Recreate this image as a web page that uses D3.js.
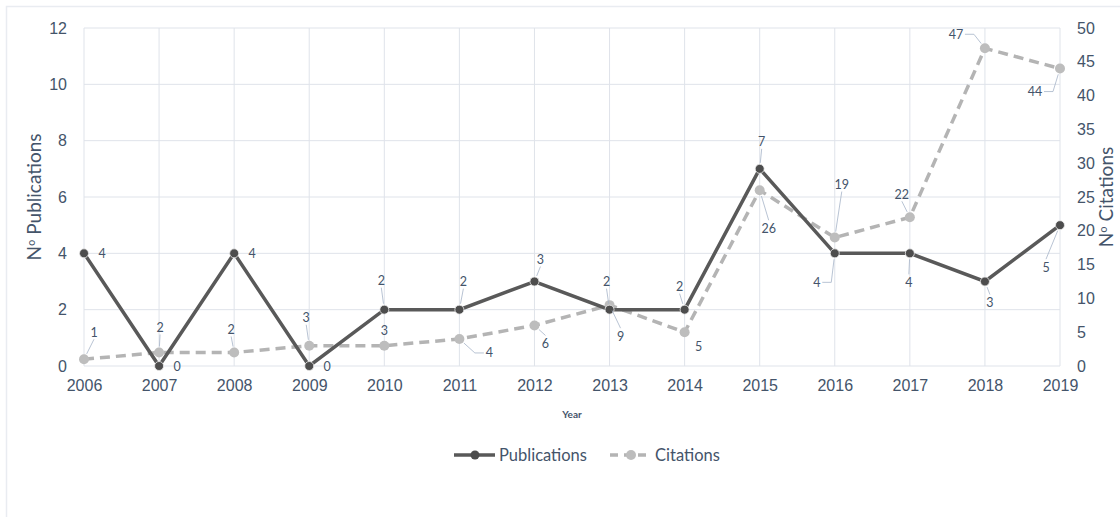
<!DOCTYPE html>
<html>
<head>
<meta charset="utf-8">
<script src="https://cdn.jsdelivr.net/npm/d3@7"></script>
<style>
  body { margin: 0; background: #fff; }
  svg { display: block; font-family: Lato, "Open Sans", sans-serif; }
  .tick text { fill: #44546a; font-size: 16px; }
  .dlabel { fill: #44546a; font-size: 12.5px; }
</style>
</head>
<body>
<svg class="chart"></svg>
<script>
var years = [2006, 2007, 2008, 2009, 2010, 2011, 2012, 2013, 2014, 2015, 2016, 2017, 2018, 2019];
var publications = [4, 0, 4, 0, 2, 2, 3, 2, 2, 7, 4, 4, 3, 5];
var citations = [1, 2, 2, 3, 3, 4, 6, 9, 5, 26, 19, 22, 47, 44];
var pubTicks = [0, 2, 4, 6, 8, 10, 12];
var citTicks = [0, 5, 10, 15, 20, 25, 30, 35, 40, 45, 50];

// label placement (offset from point, px) and leader flag
var pubLabelPos = [[18,0,0],[18,0,0],[18,0,0],[18,0,0],[-3,-29,1],[4,-28,1],[6,-22,1],[-3,-28,1],[-5,-23,1],[2,-27,1],[-18,29,2],[-1,29,1],[5,21,1],[-14,42,1]];
var citLabelPos = [[10,-27,1],[1,-25,1],[-3,-23,1],[-3,-28,1],[0,-15,0],[30,14,2],[11,18,1],[11,31,1],[14,14,0],[9,38,1],[7,-53,1],[-8,-23,1],[-29,-14,2],[-25,23,2]];

var W = 1120, H = 517;
var margin = {top: 28, right: 60, bottom: 151, left: 84},
    width = W - margin.left - margin.right,
    height = H - margin.top - margin.bottom;

var svg = d3.select(".chart").attr("width", W).attr("height", H);

svg.append("rect")
    .attr("x", 6.5).attr("y", 6.5)
    .attr("width", W).attr("height", H)
    .attr("fill", "none").attr("stroke", "#e9ecf1").attr("stroke-width", 1.5);

var chart = svg.append("g")
    .attr("transform", "translate(" + margin.left + "," + margin.top + ")");

var x = d3.scalePoint().domain(years).range([0, width]),
    y = d3.scaleLinear().domain([0, 12]).range([height, 0]),
    y2 = d3.scaleLinear().domain([0, 50]).range([height, 0]);

// grid
chart.append("g").selectAll("line")
    .data(pubTicks).enter().append("line")
    .attr("x1", 0).attr("x2", width)
    .attr("y1", function(d) { return y(d); })
    .attr("y2", function(d) { return y(d); })
    .attr("stroke", "#dfe3ea").attr("stroke-width", 1);
chart.append("g").selectAll("line")
    .data(years).enter().append("line")
    .attr("x1", function(d) { return x(d); })
    .attr("x2", function(d) { return x(d); })
    .attr("y1", 0).attr("y2", height)
    .attr("stroke", "#dfe3ea").attr("stroke-width", 1);

// axes
var xAxis = chart.append("g")
    .attr("transform", "translate(0," + height + ")")
    .call(d3.axisBottom(x).tickSize(0).tickPadding(14).tickFormat(d3.format("d")));
var yAxis = chart.append("g")
    .call(d3.axisLeft(y).tickValues(pubTicks).tickSize(0).tickPadding(17));
var y2Axis = chart.append("g")
    .attr("transform", "translate(" + width + ",0)")
    .call(d3.axisRight(y2).tickValues(citTicks).tickSize(0).tickPadding(17));
[xAxis, yAxis, y2Axis].forEach(function(a) { a.select(".domain").remove(); });

// axis titles
function axisTitle(tx, label) {
  var t = svg.append("text")
      .attr("transform", "translate(" + tx + "," + (margin.top + height / 2) + ") rotate(-90)")
      .attr("text-anchor", "middle")
      .attr("fill", "#44546a").attr("font-size", 19);
  t.append("tspan").text("N");
  t.append("tspan").attr("font-family", "'Open Sans'").attr("font-size", 17).text("º");
  t.append("tspan").text(" " + label);
}
axisTitle(41, "Publications");
axisTitle(1113, "Citations");
svg.append("text")
    .attr("x", 572).attr("y", 418)
    .attr("text-anchor", "middle")
    .attr("fill", "#44546a").attr("font-size", 10).attr("font-weight", "bold")
    .text("Year");

// lines
var pubLine = d3.line()
    .x(function(d, i) { return x(years[i]); })
    .y(function(d) { return y(d); });
var citLine = d3.line()
    .x(function(d, i) { return x(years[i]); })
    .y(function(d) { return y2(d); });

chart.append("path")
    .datum(citations)
    .attr("d", citLine)
    .attr("fill", "none").attr("stroke", "#b4b4b4")
    .attr("stroke-width", 3.5).attr("stroke-dasharray", "10,6");
chart.append("path")
    .datum(publications)
    .attr("d", pubLine)
    .attr("fill", "none").attr("stroke", "#595959")
    .attr("stroke-width", 3.5);

chart.append("g").selectAll("circle")
    .data(citations).enter().append("circle")
    .attr("cx", function(d, i) { return x(years[i]); })
    .attr("cy", function(d) { return y2(d); })
    .attr("r", 5).attr("fill", "#bdbdbd");
chart.append("g").selectAll("circle")
    .data(publications).enter().append("circle")
    .attr("cx", function(d, i) { return x(years[i]); })
    .attr("cy", function(d) { return y(d); })
    .attr("r", 4.5).attr("fill", "#4d4d4d")
    .attr("stroke", "#eeeeee").attr("stroke-width", 0.8);

// data labels with leader lines
function drawLabels(values, scale, pos) {
  var g = chart.append("g");
  values.forEach(function(v, i) {
    var px = x(years[i]), py = scale(v);
    var lx = px + pos[i][0], ly = py + pos[i][1], mode = pos[i][2];
    var txt = String(v), hw = txt.length * 3.5 + 2;
    if (mode === 1) {
      var sy = pos[i][1] < 0 ? ly + 7 : ly - 8;
      var dx = px - lx, dy = py - sy, len = Math.sqrt(dx * dx + dy * dy);
      var ex = px - dx / len * 6, ey = py - dy / len * 6;
      g.append("line")
          .attr("x1", lx).attr("y1", sy).attr("x2", ex).attr("y2", ey)
          .attr("stroke", "#a6b4c8").attr("stroke-width", 0.8);
    } else if (mode === 2) {
      var side = pos[i][0] < 0 ? 1 : -1;
      var sx = lx + side * hw, kx = sx + side * 9;
      var ddx = px - kx, ddy = py - ly, l2 = Math.sqrt(ddx * ddx + ddy * ddy);
      g.append("path")
          .attr("d", "M" + sx + "," + ly + "L" + kx + "," + ly + "L" + (px - ddx / l2 * 6) + "," + (py - ddy / l2 * 6))
          .attr("fill", "none").attr("stroke", "#a6b4c8").attr("stroke-width", 0.8);
    }
    g.append("text")
        .attr("class", "dlabel")
        .attr("x", lx).attr("y", ly)
        .attr("text-anchor", "middle")
        .attr("dominant-baseline", "central")
        .text(txt);
  });
}
drawLabels(publications, y, pubLabelPos);
drawLabels(citations, y2, citLabelPos);

// legend
var legend = svg.append("g").attr("transform", "translate(0,455)");
legend.append("line").attr("x1", 454).attr("x2", 495).attr("y1", 0).attr("y2", 0)
    .attr("stroke", "#595959").attr("stroke-width", 3.5);
legend.append("circle").attr("cx", 475).attr("cy", 0).attr("r", 4.5).attr("fill", "#4d4d4d");
legend.append("text").attr("x", 499).attr("y", 0).attr("dominant-baseline", "central")
    .attr("fill", "#44546a").attr("font-size", 16.5).text("Publications");
legend.append("line").attr("x1", 610).attr("x2", 647).attr("y1", 0).attr("y2", 0)
    .attr("stroke", "#b4b4b4").attr("stroke-width", 3.5).attr("stroke-dasharray", "8,6");
legend.append("circle").attr("cx", 631).attr("cy", 0).attr("r", 5).attr("fill", "#bdbdbd");
legend.append("text").attr("x", 655).attr("y", 0).attr("dominant-baseline", "central")
    .attr("fill", "#44546a").attr("font-size", 16.5).text("Citations");
</script>
</body>
</html>
